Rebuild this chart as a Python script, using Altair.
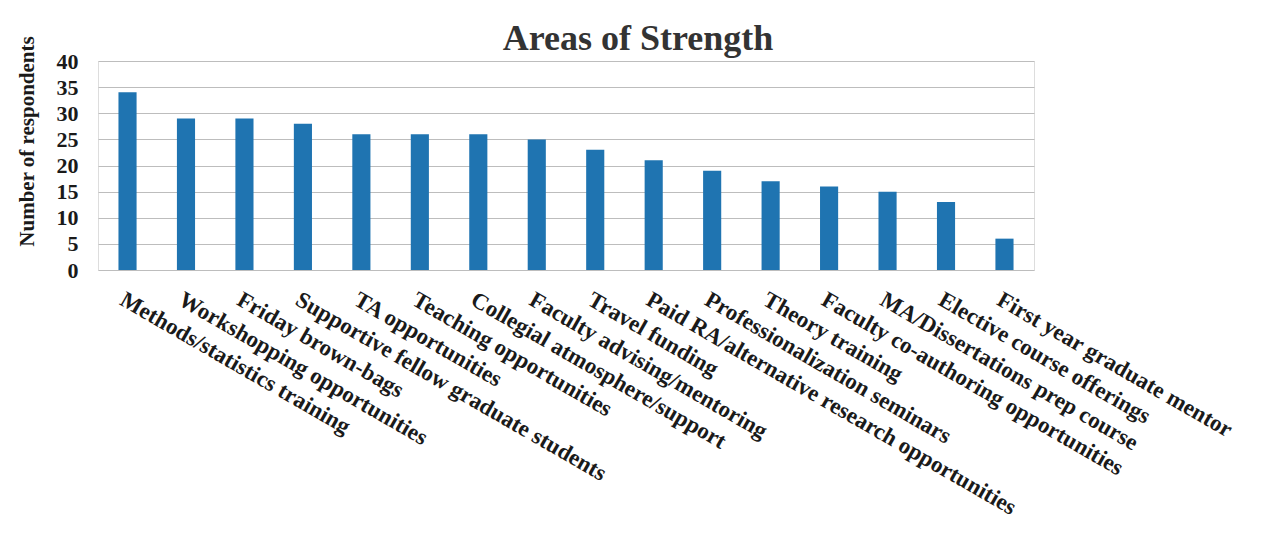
import altair as alt
import pandas as pd

categories = [
    "Methods/statistics training",
    "Workshopping opportunities",
    "Friday brown-bags",
    "Supportive fellow graduate students",
    "TA opportunities",
    "Teaching opportunities",
    "Collegial atmosphere/support",
    "Faculty advising/mentoring",
    "Travel funding",
    "Paid RA/alternative research opportunities",
    "Professionalization seminars",
    "Theory training",
    "Faculty co-authoring opportunities",
    "MA/Dissertations prep course",
    "Elective course offerings",
    "First year graduate mentor",
]
values = [34, 29, 29, 28, 26, 26, 26, 25, 23, 21, 19, 17, 16, 15, 13, 6]
y_ticks = [0, 5, 10, 15, 20, 25, 30, 35, 40]

df = pd.DataFrame({"area": categories, "count": values})

FONT = "Liberation Serif"

chart = (
    alt.Chart(df)
    .mark_bar(color="#1f74b1")
    .encode(
        x=alt.X(
            "area:N",
            sort=categories,
            scale=alt.Scale(paddingInner=0.69, paddingOuter=0.35),
            axis=alt.Axis(
                title=None,
                labelAngle=30,
                labelAlign="left",
                labelBaseline="top",
                labelFont=FONT,
                labelFontWeight="bold",
                labelFontSize=23,
                labelColor="#1a1a1a",
                labelPadding=18,
                labelLimit=0,
                labelOverlap=False,
                domain=False,
                ticks=False,
            ),
        ),
        y=alt.Y(
            "count:Q",
            scale=alt.Scale(domain=[0, 40]),
            axis=alt.Axis(
                values=y_ticks,
                title="Number of respondents",
                titleFont=FONT,
                titleFontWeight="bold",
                titleFontSize=21,
                titleColor="#1a1a1a",
                titleX=-71,
                titleY=80,
                titleAngle=-90,
                titleAlign="center",
                titleBaseline="middle",
                labelFont=FONT,
                labelFontWeight="bold",
                labelFontSize=22,
                labelColor="#1a1a1a",
                labelPadding=20,
                domain=False,
                ticks=False,
                gridColor="#bdbdbd",
                gridWidth=1,
            ),
        ),
    )
    .properties(
        width=936,
        height=209,
        title=alt.TitleParams(
            "Areas of Strength",
            font=FONT,
            fontSize=36,
            fontWeight="bold",
            color="#333333",
            anchor="middle",
            frame="group",
            dx=72,
            dy=22,
            offset=0,
        ),
        autosize=alt.AutoSizeParams(type="none"),
        padding={"left": 90, "top": 53, "right": 221, "bottom": 265},
    )
    .configure_view(stroke=None)
    .configure(background="white")
)

chart.save("out.html", embed_options={"renderer": "svg", "actions": False})
